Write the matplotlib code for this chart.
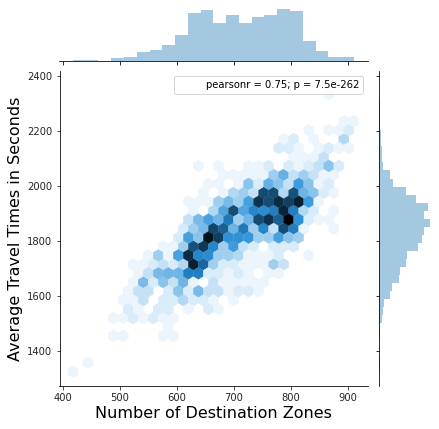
import colorsys
import numpy as np
import matplotlib
matplotlib.use("Agg")
import matplotlib.pyplot as plt
from matplotlib.colors import LinearSegmentedColormap

# histogram heights
zones_counts = [3, 3, 0, 10, 13, 26, 34, 49, 79, 145, 154, 115, 139, 115, 133, 139, 157, 151, 61, 31, 13, 13]
times_counts = [1, 1, 0, 0, 2, 2, 8, 11, 14, 32, 38, 59, 62, 80, 83, 116, 128, 134, 152, 134, 146, 110, 80, 41,
                32, 11, 8, 8, 5, 4, 2, 3, 2, 1]

zones_min, zones_max = 417.5, 910.0
times_min, times_max = 1326.5, 2366.5
times_hist_start, times_hist_stop = 1330.0, 2319.4

# hex cell counts, one entry per hex row from the bottom, with the first column of that row
row_start = [0, 1, 0, 0, 4, 9, 4, 5, 5, 5, 6, 6, 6, 7, 9, 10, 11, 11, 12, 11, 13, 13, 15, 12, 22, 20, 21, 23, 27, 0, 0, 25]
row_counts = [
    [2],
    [2],
    [],
    [],
    [2, 2, 0, 0, 0, 2, 2],
    [2],
    [2, 2, 4, 2, 4, 2, 2],
    [4, 2, 0, 4, 4, 0, 2, 0, 4, 2],
    [2, 2, 6, 0, 4, 4, 8, 4, 4, 2, 0, 2],
    [2, 6, 6, 0, 4, 12, 4, 14, 6, 6, 2, 4, 4, 2],
    [2, 14, 4, 12, 6, 15, 2, 0, 6, 2, 2, 2, 2, 2],
    [2, 6, 14, 15, 15, 25, 25, 4, 4, 2, 4, 2, 0, 2, 2],
    [2, 2, 4, 6, 4, 8, 40, 29, 10, 4, 4, 2, 2, 2, 10, 6],
    [2, 10, 2, 19, 38, 24, 23, 10, 10, 8, 2, 2, 2, 4, 0, 0, 2],
    [2, 2, 10, 32, 36, 24, 10, 20, 6, 4, 0, 4, 4, 4],
    [4, 19, 12, 42, 35, 22, 22, 21, 10, 10, 19, 12, 10],
    [4, 10, 14, 34, 30, 15, 26, 10, 24, 6, 33, 25, 2, 0, 0, 2],
    [6, 14, 19, 15, 26, 10, 15, 33, 37, 30, 45, 22, 4, 2, 2],
    [2, 0, 8, 18, 33, 18, 24, 23, 25, 39, 25, 8, 4, 0, 2],
    [2, 2, 2, 10, 14, 10, 19, 37, 33, 38, 35, 40, 20, 2],
    [2, 0, 2, 8, 10, 6, 33, 33, 8, 32, 15, 12, 4, 2],
    [2, 2, 0, 2, 12, 4, 16, 12, 6, 20, 12, 2, 4],
    [2, 2, 2, 2, 2, 10, 16, 6, 10, 6, 2, 2],
    [2, 0, 2, 0, 0, 2, 2, 4, 0, 4, 2, 4, 6, 12, 4],
    [2, 2, 2, 6],
    [4, 4, 2, 0, 2, 4, 2, 2],
    [2, 4, 0, 2, 0, 0, 8],
    [2, 0, 2, 2, 4],
    [2, 2],
    [],
    [],
    [2],
]

x_ticks = [400, 500, 600, 700, 800, 900]
y_ticks = [1400, 1600, 1800, 2000, 2200, 2400]
stats_label = "pearsonr = 0.75; p = 7.5e-262"

# same blend seaborn uses for its hex plots: C0 from white to black
base = matplotlib.colors.to_rgb("#1f77b4")
h, l, s = colorsys.rgb_to_hls(*base)
hex_cmap = LinearSegmentedColormap.from_list(
    "hexblue", [colorsys.hls_to_rgb(h, v, s) for v in np.linspace(1, 0, 12)], N=256)

# turn the rows into bin centres for hexbin
nx, ny = 28, 16
sx = (zones_max - zones_min) / nx
sy = (times_max - times_min) / ny
hex_x, hex_y, hex_c = [], [], []
for j, (first, counts) in enumerate(zip(row_start, row_counts)):
    for k, count in enumerate(counts):
        if count > 0:
            hex_x.append(zones_min + sx * (first + k + 0.5 * (j % 2)))
            hex_y.append(times_min + sy * j / 2)
            hex_c.append(count)

W, H = 439, 429
fig = plt.figure(figsize=(W / 72, H / 72), dpi=72)
ax = fig.add_axes([59.5 / W, (H - 386) / H, 308.5 / W, 315 / H])
ax_top = fig.add_axes([59.5 / W, (H - 61) / H, 308.5 / W, 62 / H], sharex=ax)
ax_right = fig.add_axes([379.3 / W, (H - 386) / H, 62 / W, 315 / H], sharey=ax)

ax.hexbin(hex_x, hex_y, C=hex_c, gridsize=(nx, ny), extent=(zones_min, zones_max, times_min, times_max),
          reduce_C_function=np.sum, mincnt=1, cmap=hex_cmap, vmin=0, vmax=45, linewidths=0.3, edgecolors="face")

zones_edges = np.linspace(zones_min, zones_max, len(zones_counts) + 1)
times_edges = np.linspace(times_hist_start, times_hist_stop, len(times_counts) + 1)
ax_top.hist(zones_edges[:-1], bins=zones_edges, weights=zones_counts, color="#1f77b4", alpha=0.4)
ax_right.hist(times_edges[:-1], bins=times_edges, weights=times_counts, color="#1f77b4", alpha=0.4,
              orientation="horizontal")

ax.set_xlim(393.9, 934.8)
ax.set_ylim(1274.5, 2419)
ax_top.set_ylim(0, 187)
ax_right.set_xlim(0, 186)

ax.set_xticks(x_ticks)
ax.set_yticks(y_ticks)
ax.tick_params(labelsize=10, length=3.5, width=0.8, colors="#262626")
ax_top.tick_params(axis="x", labelbottom=False, length=3.5, width=0.8)
ax_top.tick_params(axis="y", left=False, labelleft=False)
ax_right.tick_params(axis="y", labelleft=False, length=3.5, width=0.8)
ax_right.tick_params(axis="x", bottom=False, labelbottom=False)

for a in [ax, ax_top, ax_right]:
    a.spines["top"].set_visible(False)
    a.spines["right"].set_visible(False)
    a.set_facecolor("white")
ax_top.spines["left"].set_visible(False)
ax_right.spines["bottom"].set_visible(False)

ax.set_xlabel("Number of Destination Zones", fontsize=16, labelpad=3)
ax.set_ylabel("Average Travel Times in Seconds", fontsize=16, labelpad=4)

blank = plt.Line2D([], [], linewidth=0)
ax.legend([blank], [stats_label], loc="upper right", fontsize=10, frameon=True)

plt.savefig("out.png", dpi=72)
